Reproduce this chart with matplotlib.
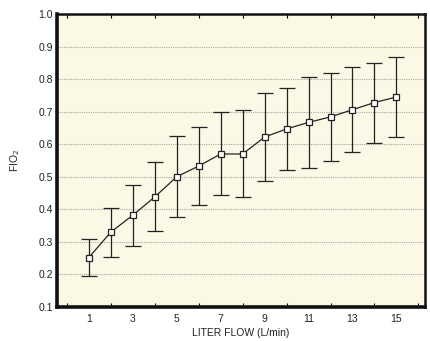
import matplotlib
matplotlib.use("Agg")
import matplotlib.pyplot as plt
import numpy as np

flow = [1, 2, 3, 4, 5, 6, 7, 8, 9, 10, 11, 12, 13, 14, 15]
fio2 = [0.252, 0.330, 0.382, 0.438, 0.500, 0.533, 0.570, 0.570, 0.622, 0.647, 0.667, 0.684, 0.706, 0.728, 0.745]
upper = [0.310, 0.405, 0.475, 0.545, 0.624, 0.652, 0.698, 0.704, 0.757, 0.774, 0.807, 0.819, 0.836, 0.851, 0.869]
lower = [0.194, 0.255, 0.288, 0.332, 0.377, 0.414, 0.444, 0.437, 0.487, 0.522, 0.527, 0.549, 0.575, 0.604, 0.621]
xtick_labels = [1, 3, 5, 7, 9, 11, 13, 15]
yticks = [0.1, 0.2, 0.3, 0.4, 0.5, 0.6, 0.7, 0.8, 0.9, 1.0]

plt.rcParams['font.family'] = ['Liberation Sans', 'DejaVu Sans']

fig = plt.figure(figsize=(4.3, 3.41), dpi=100)
ax = fig.add_axes([57/430, 34/341, 368/430, 293/341])
ax.set_facecolor('#fcf8e6')

fio2_a = np.array(fio2)
yerr = [fio2_a - np.array(lower), np.array(upper) - fio2_a]
ax.errorbar(flow, fio2, yerr=yerr, color='#222222', lw=0.9, elinewidth=0.9,
            capsize=6, capthick=0.9, marker='s', markersize=4.5,
            markerfacecolor='white', markeredgecolor='#222222', markeredgewidth=0.9, zorder=3)

ax.set_xlim(-0.45, 16.3)
ax.set_ylim(0.1, 1.0)
ax.set_yticks(yticks)
ax.set_yticklabels([f"{v:.1f}" for v in yticks])
ax.set_xticks(xtick_labels)
ax.set_xticklabels([str(v) for v in xtick_labels])
ax.set_xticks(range(0, 17), minor=True)
ax.tick_params(axis='x', which='major', length=0, labelsize=7.5, pad=5, colors='#222222')
ax.tick_params(axis='x', which='minor', direction='in', length=3, width=0.8, top=True, bottom=True)
ax.tick_params(axis='y', which='both', length=0, labelsize=7.5, pad=3, colors='#222222')

ax.grid(axis='y', linestyle=(0, (1, 1)), color='#a8a8a0', lw=0.8)
ax.set_axisbelow(True)

for side in ['left', 'bottom']:
    ax.spines[side].set_linewidth(2.6)
for side in ['top', 'right']:
    ax.spines[side].set_linewidth(1.8)
for s in ax.spines.values():
    s.set_color('#111111')

ax.set_xlabel('LITER FLOW (L/min)', fontsize=7.5, labelpad=3, color='#222222')
ax.set_ylabel('FIO$_2$', fontsize=7.5, labelpad=12, color='#222222')

fig.savefig('out.png', dpi=100, facecolor='white')
